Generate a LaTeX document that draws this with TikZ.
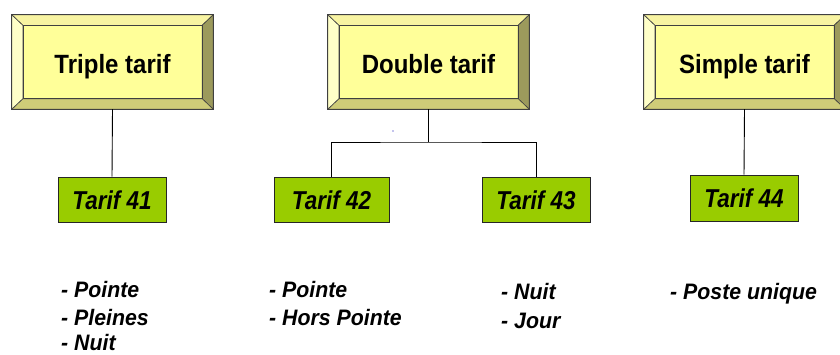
\documentclass[tikz,border=0pt]{standalone}
\usepackage{fontspec}
\setmainfont{Liberation Sans}
\pgfdeclarelayer{bg}
\pgfsetlayers{bg,main}
\definecolor{bvcenter}{HTML}{FFFF99}
\definecolor{bvtop}{HTML}{F8F4A2}
\definecolor{bvleft}{HTML}{FFFFC8}
\definecolor{bvright}{HTML}{9C9A5C}
\definecolor{bvbottom}{HTML}{CFCC78}
\definecolor{bvline}{HTML}{404040}
\definecolor{tgreen}{HTML}{99CC00}
\newcommand\mybevel[1]{%
  \begin{pgfonlayer}{bg}
  \coordinate (#1-o1) at (#1.north west);
  \coordinate (#1-o2) at (#1.north east);
  \coordinate (#1-o3) at (#1.south east);
  \coordinate (#1-o4) at (#1.south west);
  \coordinate (#1-i1) at ([shift={(11,10.5)}]#1.north west);
  \coordinate (#1-i2) at ([shift={(-11,10.5)}]#1.north east);
  \coordinate (#1-i3) at ([shift={(-11,-10.5)}]#1.south east);
  \coordinate (#1-i4) at ([shift={(11,-10.5)}]#1.south west);
  \fill[bvcenter] (#1-i1) rectangle (#1-i3);
  \filldraw[bvface, fill=bvtop] (#1-o1) -- (#1-o2) -- (#1-i2) -- (#1-i1) -- cycle;
  \filldraw[bvface, fill=bvright] (#1-o2) -- (#1-o3) -- (#1-i3) -- (#1-i2) -- cycle;
  \filldraw[bvface, fill=bvbottom] (#1-o3) -- (#1-o4) -- (#1-i4) -- (#1-i3) -- cycle;
  \filldraw[bvface, fill=bvleft] (#1-o4) -- (#1-o1) -- (#1-i1) -- (#1-i4) -- cycle;
  \draw[bvface] (#1-i1) rectangle (#1-i3);
  \draw[bvline, line width=0.8pt] (#1-o1) rectangle (#1-o3);
  \end{pgfonlayer}}
\newcommand\hdtxt[1]{\scalebox{1}[1.1]{#1}}
\newcommand\tftxt[1]{\scalebox{1}[1.15]{#1}}
\newcommand\lstxt[1]{\scalebox{1}[1.05]{#1}}
\tikzset{
  bvface/.style={draw=bvline, line width=0.6pt, line join=round},
  bevelbox/.style={inner sep=0pt, minimum width=201pt, minimum height=94pt,
    text height=24pt, text depth=2pt,
    font=\fontsize{24}{28}\selectfont\bfseries},
  tarifbox/.style={draw=black!85, line width=0.9pt, fill=tgreen, inner sep=0pt,
    minimum width=108pt, minimum height=45pt, text height=21pt, text depth=2pt,
    font=\fontsize{22.5}{27}\selectfont\bfseries\itshape},
  listtext/.style={anchor=base west, inner sep=0pt,
    font=\fontsize{21.3}{25}\selectfont\bfseries\itshape},
  conn/.style={draw=black, line width=0.9pt}
}
\begin{document}
\begin{tikzpicture}[x=1pt,y=-1pt]
\useasboundingbox (0,0) rectangle (840,354);
\clip (0,0) rectangle (840,354);
\begin{pgfonlayer}{bg}
\fill[white] (0,0) rectangle (840,354);
\end{pgfonlayer}

\node[bevelbox] (t3) at (112.5,62) {\hdtxt{Triple tarif}};
\node[bevelbox] (t2) at (428.5,62) {\hdtxt{Double tarif}};
\node[bevelbox] (t1) at (744.5,62) {\hdtxt{Simple tarif}};
\mybevel{t3}
\mybevel{t2}
\mybevel{t1}

\node[tarifbox] (g41) at (112,199.5) {\tftxt{Tarif 41}};
\node[tarifbox, minimum width=115pt] (g42) at (331.5,199.5) {\tftxt{Tarif 42}};
\node[tarifbox] (g43) at (536,199.5) {\tftxt{Tarif 43}};
\node[tarifbox, minimum height=46pt] (g44) at (744,198) {\tftxt{Tarif 44}};

\coordinate (j) at (428.5,142);
\draw[conn] (t3.south) -- (g41.north);
\draw[conn] (t2.south) -- (j);
\draw[conn] (g42.north) |- (j) -| (g43.north);
\draw[conn] (t1.south) -- (g44.north);

\fill[blue!70!black] (393,131) circle (0.7);

\node[listtext] (l1a) at (61,297) {\lstxt{- Pointe}};
\node[listtext] (l1b) at (61,325.5) {\lstxt{- Pleines}};
\node[listtext] (l1c) at (61,350.5) {\lstxt{- Nuit}};
\node[listtext] (l2a) at (269,297) {\lstxt{- Pointe}};
\node[listtext] (l2b) at (269,325.5) {\lstxt{- Hors Pointe}};
\node[listtext] (l3a) at (501,299.5) {\lstxt{- Nuit}};
\node[listtext] (l3b) at (501,328) {\lstxt{- Jour}};
\node[listtext] (l4a) at (670,299.5) {\lstxt{- Poste unique}};
\end{tikzpicture}
\end{document}
